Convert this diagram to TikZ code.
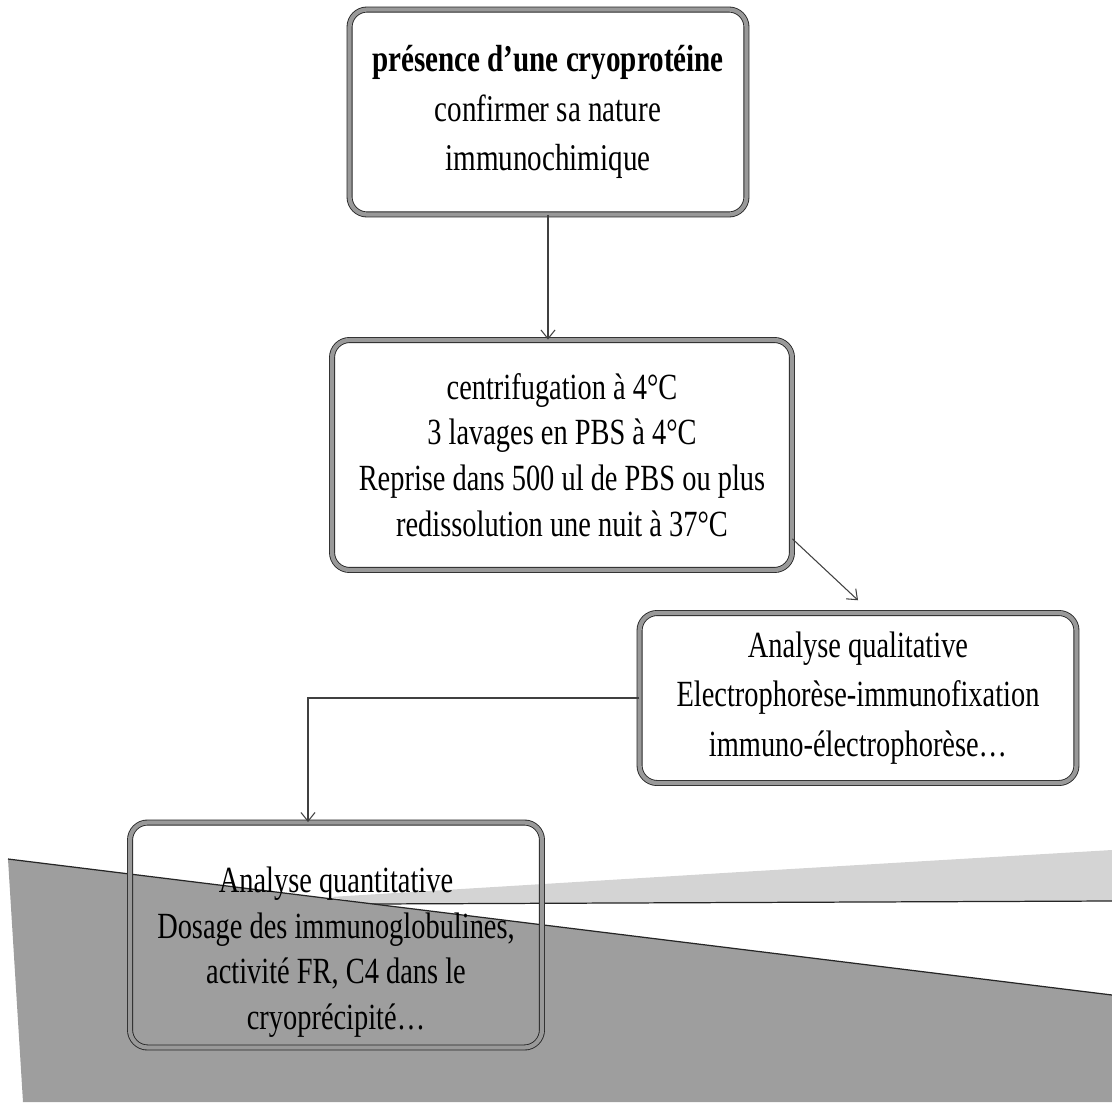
\documentclass[tikz,border=0pt]{standalone}
\usepackage{fontspec}
\setmainfont{Liberation Serif}[FakeStretch=0.77]
\usetikzlibrary{arrows.meta}
\begin{document}
\begin{tikzpicture}[x=0.02cm, y=-0.02cm, >={Straight Barb[length=5pt,width=8pt]},
  box/.style={draw=black!85, line width=0.5pt, double=black!40, double distance=2.4pt,
    rounded corners=10pt, align=center, font=\fontsize{21}{26}\selectfont},
  link/.style={->, draw=black!75, line width=0.6pt}]
  \useasboundingbox (0,0) rectangle (1112,1102);
  % shading of the scan at the bottom
  \fill[black!17] (330,897) -- (740,872) -- (1112,850) -- (1112,901) -- (370,904) -- cycle;
  \draw[black!85, line width=0.7pt] (370,904) -- (1112,901);
  \fill[black!38] (8,859) -- (1112,995) -- (1112,1102) -- (23,1102) -- cycle;
  \draw[black!85, line width=0.7pt] (8,859) -- (1112,995);
  % boxes
  \node[box, minimum width=7.94cm, minimum height=4.1cm, font=\fontsize{21.5}{28}\selectfont] (b1) at (548,112)
    {\textbf{présence d’une cryoprotéine}\\confirmer sa nature\\immunochimique};
  \node[box, minimum width=9.2cm, minimum height=4.6cm] (b2) at (562,455)
    {centrifugation à 4°C\\3 lavages en PBS à 4°C\\Reprise dans 500 ul de PBS ou plus\\redissolution une nuit à 37°C};
  \node[box, minimum width=8.74cm, minimum height=3.4cm, font=\fontsize{21}{28}\selectfont] (b3) at (858,698)
    {Analyse qualitative\\Electrophorèse-immunofixation\\immuno-électrophorèse…};
  \node[box, minimum width=8.24cm, minimum height=4.5cm] (b4) at (336,935)
    {\rule{0pt}{34pt}Analyse quantitative\\Dosage des immunoglobulines,\\activité FR, C4 dans le\\cryoprécipité…};
  % arrows
  \draw[link] (b1.south) -- (b1.south |- b2.north);
  \draw[link] (b2.-20) -- ([yshift=7pt]b3.north);
  \draw[link] (b3.west) -| ([xshift=-0.56cm]b4.north);
\end{tikzpicture}
\end{document}
